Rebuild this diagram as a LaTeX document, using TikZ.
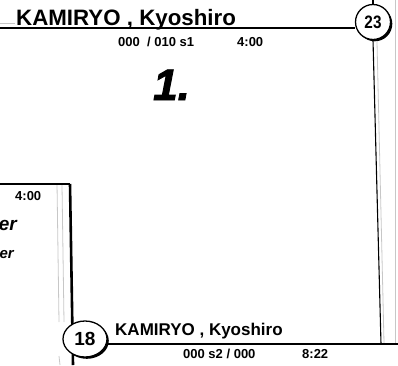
\documentclass[tikz,border=0pt]{standalone}
\usepackage{fontspec}
\usepackage{graphicx}
\setmainfont{Liberation Sans}
\usetikzlibrary{shadows,shapes.geometric}
\begin{document}
\begin{tikzpicture}[x=1pt,y=-1pt,
  heavy/.style={line width=2.6pt},
  thinline/.style={line width=1.1pt},
  faint/.style={black!22, line width=0.8pt},
  seed/.style={draw, line width=1.3pt, fill=white, inner sep=0pt,
    drop shadow={opacity=1, fill=black, shadow xshift=1.8pt, shadow yshift=-1.8pt},
    font=\fontsize{19}{19}\selectfont\bfseries},
  txtbase/.style={anchor=base west, inner sep=0pt},
  playerstyle/.style={txtbase, font=\bfseries},
  infostyle/.style={txtbase, font=\fontsize{13}{13}\selectfont\bfseries}]
\useasboundingbox (0,0) rectangle (398,365);
% faint ghost lines
\draw[faint] (0,23.5) -- (15,23.5);
\draw[faint] (57,183) -- (69,183);
\draw[faint] (57,183) -- (59,322);
\draw[faint] (62,185) -- (64,322);
\draw[faint] (59,356) -- (60,365);
\draw[faint] (395,0) -- (395,343);
\draw[faint] (377,42) -- (384,343);
% coordinates
\coordinate (tl) at (0,28);
\coordinate (tt) at (373,0);
\coordinate (rb) at (381,344);
\coordinate (re) at (398,344);
\coordinate (bl) at (0,184);
\coordinate (bc) at (70,184);
\coordinate (bb) at (73,365);
% left bracket
\draw[heavy] (bl) -- (bc);
\draw[heavy] (bc) -- (bb);
% seeds
\node[seed, circle, minimum size=35pt] (c23) at (373,22) {\scalebox{0.85}[1]{\fontsize{18}{18}\selectfont 23}};
\node[seed, ellipse, minimum width=44pt, minimum height=36pt] (c18) at (85,339) {18};
% connectors
\draw[heavy] (tl) -- (c23.west |- tl);
\draw[thinline] (c23.north) -- (tt);
\draw[thinline] (c23.south) -- (rb);
\draw[heavy] (c18.east |- re) -- (re);
% texts
\node[playerstyle, font=\fontsize{22.3}{24}\selectfont\bfseries] (n1) at (16,25) {KAMIRYO , Kyoshiro};
\node[infostyle] (s1) at (118,46) {000\ \ / 010 s1};
\node[infostyle] (t1) at (237,46) {4:00};
\node[txtbase, font=\fontsize{44}{44}\selectfont\bfseries\itshape\addfontfeature{FakeBold=2}] (r1) at (153,100) {1.};
\node[infostyle] (t3) at (15,200) {4:00};
\node[txtbase, anchor=base east, font=\fontsize{19}{19}\selectfont\bfseries\itshape] (e1) at (17,230) {er};
\node[txtbase, anchor=base east, font=\fontsize{15}{15}\selectfont\bfseries\itshape] (e2) at (14,258) {er};
\node[playerstyle, font=\fontsize{17}{18}\selectfont\bfseries] (n2) at (115,335) {KAMIRYO , Kyoshiro};
\node[infostyle] (s2) at (183,358) {000 s2 / 000};
\node[infostyle] (t2) at (302,358) {8:22};
\end{tikzpicture}
\end{document}
